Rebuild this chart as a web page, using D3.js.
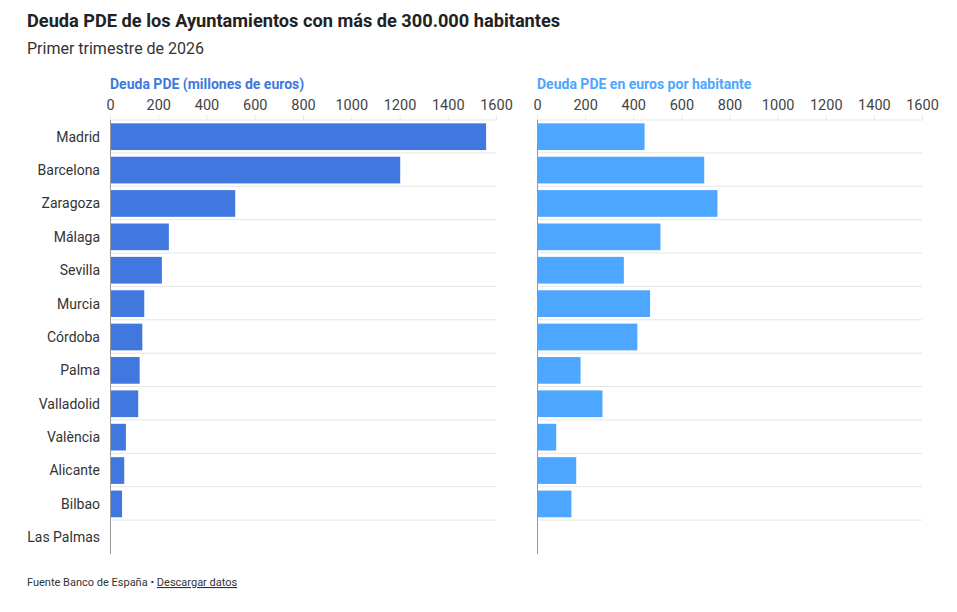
<!DOCTYPE html>
<html>
<head>
<meta charset="utf-8">
<script src="https://cdn.jsdelivr.net/npm/d3@7"></script>
<style>
  body { margin: 0; background: #fff; font-family: Roboto, sans-serif; }
  svg text { font-family: Roboto, sans-serif; }
</style>
</head>
<body>
<svg id="chart" width="957" height="612"></svg>
<script>
// datos
var cities = ["Madrid", "Barcelona", "Zaragoza", "Málaga", "Sevilla", "Murcia", "Córdoba",
              "Palma", "Valladolid", "València", "Alicante", "Bilbao", "Las Palmas"];
var debtMillions = [1559, 1203, 519, 244, 215, 142, 134, 123, 117, 66, 59, 50, 0];
var debtPerCapita = [447, 695, 750, 513, 361, 470, 417, 181, 272, 80, 163, 143, 0];
var tickValues = [0, 200, 400, 600, 800, 1000, 1200, 1400, 1600];

var svg = d3.select("#chart");

svg.append("text")
    .attr("x", 27).attr("y", 27)
    .attr("font-size", 18.2).attr("font-weight", "bold")
    .attr("fill", "#222")
    .text("Deuda PDE de los Ayuntamientos con más de 300.000 habitantes");

svg.append("text")
    .attr("x", 27).attr("y", 54)
    .attr("font-size", 16)
    .attr("fill", "#333")
    .text("Primer trimestre de 2026");

var y = d3.scaleBand()
    .domain(cities)
    .range([120, 554])
    .paddingInner(0.2)
    .paddingOuter(0.1);

function panel(x0, x1, values, color, title, showLabels) {
    var x = d3.scaleLinear().domain([0, 1600]).range([x0, x1]);
    var g = svg.append("g");

    // lineas entre filas
    var step = y.step();
    g.selectAll("line.row").data(cities.slice(1))
        .enter().append("line")
        .attr("class", "row")
        .attr("x1", x0).attr("x2", x1)
        .attr("y1", function (d) { return y(d) - step * 0.1 - 0.5; })
        .attr("y2", function (d) { return y(d) - step * 0.1 - 0.5; })
        .attr("stroke", "#e6e6e6");

    var axis = g.append("g")
        .attr("transform", "translate(0,119.5)")
        .call(d3.axisTop(x).tickValues(tickValues).tickFormat(d3.format("d"))
            .tickSize(4).tickPadding(6));
    axis.select(".domain").attr("stroke", "#e6e6e6");
    axis.selectAll(".tick line").attr("stroke", "#e6e6e6");
    axis.selectAll(".tick text")
        .attr("font-size", 14.5)
        .attr("fill", "#444")
        .style("font-family", "Roboto, sans-serif");

    g.selectAll("rect").data(values)
        .enter().append("rect")
        .attr("x", x(0))
        .attr("y", function (d, i) { return y(cities[i]); })
        .attr("width", function (d) { return x(d) - x(0); })
        .attr("height", y.bandwidth())
        .attr("fill", color);

    g.append("line")
        .attr("x1", x0 + 0.5).attr("x2", x0 + 0.5)
        .attr("y1", 120).attr("y2", 554)
        .attr("stroke", "#999");

    g.append("text")
        .attr("x", x0).attr("y", 89)
        .attr("font-size", 14).attr("font-weight", "bold")
        .attr("fill", color)
        .text(title);

    if (showLabels) {
        g.selectAll("text.cat").data(cities)
            .enter().append("text")
            .attr("class", "cat")
            .attr("x", x0 - 10)
            .attr("y", function (d) { return y(d) + y.bandwidth() / 2; })
            .attr("dy", ".35em")
            .attr("text-anchor", "end")
            .attr("font-size", 14)
            .attr("fill", "#333")
            .text(function (d) { return d; });
    }
}

panel(110, 496, debtMillions, "#4078e0", "Deuda PDE (millones de euros)", true);
panel(537, 922, debtPerCapita, "#4da6ff", "Deuda PDE en euros por habitante", false);

var foot = svg.append("text")
    .attr("x", 27).attr("y", 586)
    .attr("font-size", 11)
    .attr("fill", "#333");
foot.append("tspan").text("Fuente Banco de España • ");
foot.append("tspan").attr("text-decoration", "underline").text("Descargar datos");
</script>
</body>
</html>
